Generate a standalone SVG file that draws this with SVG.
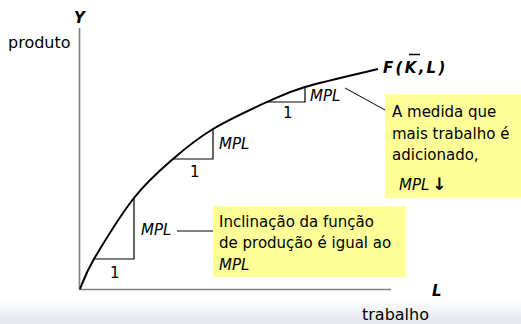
<svg xmlns="http://www.w3.org/2000/svg" width="521" height="324" viewBox="0 0 521 324">
<defs>
<linearGradient id="band" x1="0" y1="0" x2="0" y2="1">
<stop offset="0" stop-color="#ffffff"/>
<stop offset="1" stop-color="#e2e6ee"/>
</linearGradient>
<style>
.t{font-family:"DejaVu Sans","Verdana",sans-serif;font-size:15px;fill:#000}
.ax{font-size:16px}
.it{font-style:italic}
.bi{font-style:italic;font-weight:bold}
.axis{stroke:#7f7f7f;stroke-width:1.6;fill:none}
.tri{stroke:#000;stroke-width:1.2;fill:none}
.conn{stroke:#000;stroke-width:1;fill:none}
.box{fill:#ffff99}
</style>
</defs>
<rect x="0" y="0" width="521" height="324" fill="#ffffff"/>
<rect x="0" y="298" width="521" height="26" fill="url(#band)"/>
<g id="axes">
<line class="axis" x1="79.5" y1="28" x2="79.5" y2="290"/>
<line class="axis" x1="79" y1="289.5" x2="391" y2="289.5"/>
<text class="t bi" x="74" y="23" font-size="17">Y</text>
<text class="t ax" x="8" y="48">produto</text>
<text class="t bi" x="432" y="296" font-size="17">L</text>
<text class="t ax" x="362" y="320">trabalho</text>
</g>
<g id="curve">
<path d="M80,289 C82.3,284 85,274.2 94,259 C103,243.8 120.8,214.7 134,198 C147.2,181.3 159.8,170.5 173,159 C186.2,147.5 197.3,138.5 213,129 C228.7,119.5 251.7,109 267,102 C282.3,95 286.5,92.5 305,87 C323.5,81.5 365.8,72 378,69" stroke="#000" stroke-width="2" fill="none"/>
<g id="flabel">
<text class="t bi" x="383" y="73" font-size="16" letter-spacing="2.3">F(K,L)</text>
<line x1="409" y1="54.5" x2="420" y2="54.5" stroke="#000" stroke-width="1.5"/>
</g>
</g>
<g id="tri-low">
<polyline class="tri" points="94,259 134,259 134,198"/>
<text class="t" x="110" y="278">1</text>
<text class="t it" x="141" y="235">MPL</text>
</g>
<g id="tri-mid">
<polyline class="tri" points="173,159 213,159 213,129"/>
<text class="t" x="190" y="177">1</text>
<text class="t it" x="219" y="149">MPL</text>
</g>
<g id="tri-top">
<polyline class="tri" points="267,102 305,102 305,87"/>
<text class="t" x="283" y="118">1</text>
<text class="t it" x="310" y="101">MPL</text>
</g>
<g id="note-slope">
<rect class="box" x="213" y="206" width="193" height="71"/>
<text class="t" x="219" y="227">Inclinação da função</text>
<text class="t" x="219" y="248">de produção é igual ao</text>
<text class="t it" x="219" y="270">MPL</text>
</g>
<g id="note-diminish">
<rect class="box" x="385" y="94" width="136" height="104"/>
<text class="t" x="392" y="117">A medida que</text>
<text class="t" x="392" y="139">mais trabalho é</text>
<text class="t" x="392" y="160">adicionado,</text>
<text class="t" x="399" y="190"><tspan class="it">MPL</tspan><tspan dx="3" font-weight="bold" font-size="17">↓</tspan></text>
</g>
<g id="connectors">
<line class="conn" x1="345" y1="88" x2="385" y2="110"/>
<line class="conn" x1="177" y1="231" x2="213" y2="231"/>
</g>
</svg>
